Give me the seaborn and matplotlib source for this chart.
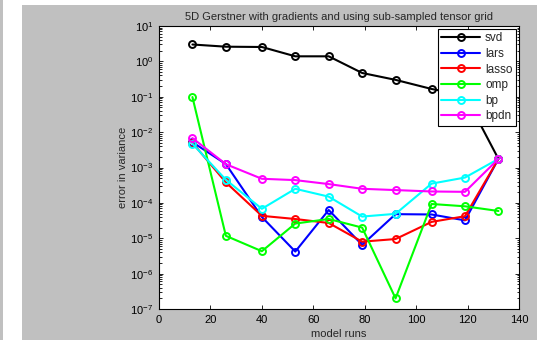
"""Error in variance vs model runs, 5D Gerstner, MATLAB-style figure."""

import matplotlib

matplotlib.use("Agg")
import matplotlib.pyplot as plt  # noqa: E402
import pandas as pd  # noqa: E402
import seaborn as sns  # noqa: E402
from matplotlib.patches import Rectangle  # noqa: E402
from matplotlib.ticker import LogLocator, NullFormatter  # noqa: E402

MODEL_RUNS = [13, 26, 40, 53, 66, 79, 92, 106, 119, 132]

SVD = [3.0, 2.6, 2.55, 1.39, 1.39, 0.47, 0.30, 0.166, 0.11, 1.75e-3]
LARS = [5.2e-3, 1.25e-3, 4.0e-5, 4.2e-6, 6.3e-5, 6.5e-6, 4.8e-5, 4.7e-5, 3.2e-5, 1.75e-3]
LASSO = [5.0e-3, 3.8e-4, 4.3e-5, 3.5e-5, 2.7e-5, 8.0e-6, 9.5e-6, 2.9e-5, 4.2e-5, 1.75e-3]
OMP = [0.098, 1.17e-5, 4.3e-6, 2.6e-5, 3.5e-5, 2.0e-5, 2.0e-7, 9.3e-5, 8.0e-5, 5.9e-5]
BP = [4.7e-3, 4.5e-4, 6.8e-5, 2.5e-4, 1.5e-4, 4.1e-5, 4.9e-5, 3.5e-4, 5.2e-4, 1.75e-3]
BPDN = [6.8e-3, 1.24e-3, 4.8e-4, 4.4e-4, 3.4e-4, 2.5e-4, 2.3e-4, 2.1e-4, 2.05e-4, 1.75e-3]

SERIES = {"svd": SVD, "lars": LARS, "lasso": LASSO, "omp": OMP, "bp": BP, "bpdn": BPDN}
COLORS = {
    "svd": "#000000",
    "lars": "#0000ff",
    "lasso": "#ff0000",
    "omp": "#00ff00",
    "bp": "#00ffff",
    "bpdn": "#ff00ff",
}
Y_TICKS = [1e-7, 1e-6, 1e-5, 1e-4, 1e-3, 1e-2, 1e-1, 1e0, 1e1]

sns.set_style("ticks")
plt.rcParams["font.family"] = ["Liberation Sans", "DejaVu Sans"]
plt.rcParams["mathtext.fontset"] = "custom"
plt.rcParams["mathtext.rm"] = "Liberation Sans"
plt.rcParams["mathtext.it"] = "Liberation Sans:italic"
plt.rcParams["mathtext.bf"] = "Liberation Sans:bold"

W, H = 537, 340
fig = plt.figure(figsize=(W / 100, H / 100), dpi=100, facecolor="white")
fig.patches.append(Rectangle((22 / W, 0), 1 - 22 / W, 335 / H, transform=fig.transFigure,
                             facecolor="#c0c0c0", edgecolor="none", zorder=-10))
fig.patches.append(Rectangle((0, 0), 3 / W, 1, transform=fig.transFigure,
                             facecolor="#c0c0c0", edgecolor="none", zorder=-10))

ax = fig.add_axes([159 / W, (H - 309) / H, (519 - 159) / W, (309 - 26) / H])
ax.set_facecolor("white")

df = pd.DataFrame({"runs": MODEL_RUNS, **SERIES})
for name in SERIES:
    sns.lineplot(
        data=df, x="runs", y=name, ax=ax, color=COLORS[name], label=name,
        marker="o", markersize=5, markerfacecolor="none",
        markeredgecolor=COLORS[name], markeredgewidth=1.4, linewidth=1.5,
    )

ax.set_yscale("log")
ax.set_xlim(0, 140)
ax.set_ylim(1e-7, 10)
ax.set_xticks(range(0, 141, 20))
ax.set_yticks(Y_TICKS)
ax.yaxis.set_minor_locator(LogLocator(base=10, subs=range(2, 10), numticks=20))
ax.yaxis.set_minor_formatter(NullFormatter())
ax.tick_params(axis="both", which="both", direction="in", top=True, right=True,
               labelsize=8, colors="black", width=0.6)
ax.tick_params(which="major", length=3, pad=4)
ax.tick_params(which="minor", length=1.8)
for spine in ax.spines.values():
    spine.set_visible(True)
    spine.set_linewidth(0.8)
    spine.set_color("black")

ax.set_title("5D Gerstner with gradients and using sub-sampled tensor grid",
             fontsize=8, pad=4)
ax.set_xlabel("model runs", fontsize=8, labelpad=3)
ax.set_ylabel("error in variance", fontsize=8, labelpad=2)

leg = ax.legend(loc="upper right", fontsize=8.5, frameon=True, fancybox=False,
                edgecolor="black", framealpha=1, handlelength=3.3,
                labelspacing=0.3, borderaxespad=0.25, borderpad=0.3,
                handletextpad=0.4)
leg.get_frame().set_linewidth(0.8)

fig.savefig("out.png", dpi=100, facecolor=fig.get_facecolor())
